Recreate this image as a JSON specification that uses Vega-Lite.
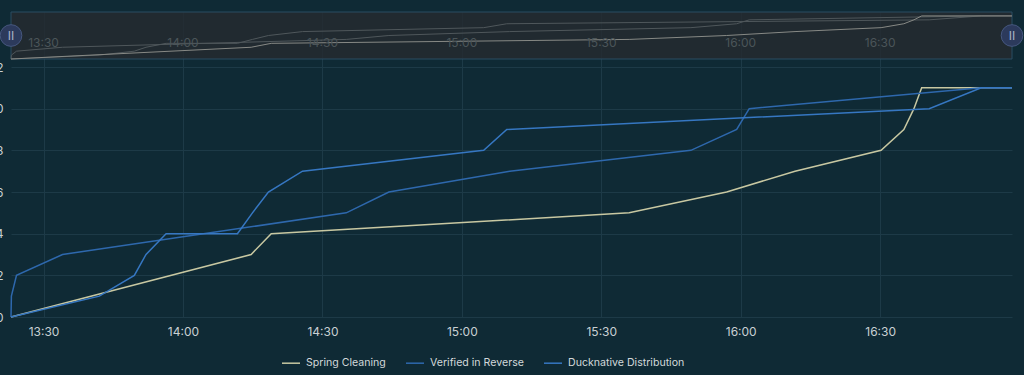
{
  "$schema": "https://vega.github.io/schema/vega-lite/v6.json",
  "width": 1001,
  "height": 305,
  "autosize": {"type": "none"},
  "padding": {"left": 11, "top": 12, "right": 12, "bottom": 58},
  "background": "#0f2a35",
  "config": {
    "view": {"stroke": null},
    "font": "Inter",
    "axisX": {"grid": true, "gridColor": "#1d3a47", "domain": false, "ticks": false, "labelPadding": 9, "labelColor": "#c9d0d3", "labelFontSize": 12, "labelFont": "Inter", "labelFlush": false},
    "axisY": {"grid": true, "gridColor": "#1d3a47", "domain": false, "ticks": false, "labelPadding": 8, "labelColor": "#c9d0d3", "labelFontSize": 12, "labelFont": "Inter"}
  },
  "datasets": {
    "lines": [
      {"series": "Spring Cleaning", "t": "2024-01-01T13:23:00", "v": 0},
      {"series": "Spring Cleaning", "t": "2024-01-01T14:14:40", "v": 3},
      {"series": "Spring Cleaning", "t": "2024-01-01T14:18:59", "v": 4},
      {"series": "Spring Cleaning", "t": "2024-01-01T15:36:00", "v": 5},
      {"series": "Spring Cleaning", "t": "2024-01-01T15:56:58", "v": 6},
      {"series": "Spring Cleaning", "t": "2024-01-01T16:11:41", "v": 7},
      {"series": "Spring Cleaning", "t": "2024-01-01T16:30:12", "v": 8},
      {"series": "Spring Cleaning", "t": "2024-01-01T16:35:06", "v": 9},
      {"series": "Spring Cleaning", "t": "2024-01-01T16:37:16", "v": 10},
      {"series": "Spring Cleaning", "t": "2024-01-01T16:38:56", "v": 11},
      {"series": "Spring Cleaning", "t": "2024-01-01T16:58:22", "v": 11},
      {"series": "Verified in Reverse", "t": "2024-01-01T13:23:00", "v": 0},
      {"series": "Verified in Reverse", "t": "2024-01-01T13:23:05", "v": 1},
      {"series": "Verified in Reverse", "t": "2024-01-01T13:24:11", "v": 2},
      {"series": "Verified in Reverse", "t": "2024-01-01T13:34:05", "v": 3},
      {"series": "Verified in Reverse", "t": "2024-01-01T14:35:08", "v": 5},
      {"series": "Verified in Reverse", "t": "2024-01-01T14:44:18", "v": 6},
      {"series": "Verified in Reverse", "t": "2024-01-01T15:10:18", "v": 7},
      {"series": "Verified in Reverse", "t": "2024-01-01T15:49:17", "v": 8},
      {"series": "Verified in Reverse", "t": "2024-01-01T15:59:08", "v": 9},
      {"series": "Verified in Reverse", "t": "2024-01-01T16:01:50", "v": 10},
      {"series": "Verified in Reverse", "t": "2024-01-01T16:51:45", "v": 11},
      {"series": "Verified in Reverse", "t": "2024-01-01T16:58:22", "v": 11},
      {"series": "Ducknative Distribution", "t": "2024-01-01T13:23:00", "v": 0},
      {"series": "Ducknative Distribution", "t": "2024-01-01T13:42:00", "v": 1},
      {"series": "Ducknative Distribution", "t": "2024-01-01T13:49:32", "v": 2},
      {"series": "Ducknative Distribution", "t": "2024-01-01T13:52:03", "v": 3},
      {"series": "Ducknative Distribution", "t": "2024-01-01T13:56:22", "v": 4},
      {"series": "Ducknative Distribution", "t": "2024-01-01T14:11:43", "v": 4},
      {"series": "Ducknative Distribution", "t": "2024-01-01T14:14:57", "v": 5},
      {"series": "Ducknative Distribution", "t": "2024-01-01T14:18:23", "v": 6},
      {"series": "Ducknative Distribution", "t": "2024-01-01T14:25:43", "v": 7},
      {"series": "Ducknative Distribution", "t": "2024-01-01T15:04:42", "v": 8},
      {"series": "Ducknative Distribution", "t": "2024-01-01T15:09:40", "v": 9},
      {"series": "Ducknative Distribution", "t": "2024-01-01T16:40:33", "v": 10},
      {"series": "Ducknative Distribution", "t": "2024-01-01T16:51:45", "v": 11},
      {"series": "Ducknative Distribution", "t": "2024-01-01T16:58:22", "v": 11}
    ],
    "nav": [
      {"t0": "2024-01-01T13:23:00", "t1": "2024-01-01T16:58:22", "v0": 0, "v1": 12}
    ],
    "navTicks": [
      {"t": "2024-01-01T13:30:00", "v": 4, "label": "13:30"},
      {"t": "2024-01-01T14:00:00", "v": 4, "label": "14:00"},
      {"t": "2024-01-01T14:30:00", "v": 4, "label": "14:30"},
      {"t": "2024-01-01T15:00:00", "v": 4, "label": "15:00"},
      {"t": "2024-01-01T15:30:00", "v": 4, "label": "15:30"},
      {"t": "2024-01-01T16:00:00", "v": 4, "label": "16:00"},
      {"t": "2024-01-01T16:30:00", "v": 4, "label": "16:30"}
    ],
    "handles": [
      {"t": "2024-01-01T13:23:00", "v": 6, "label": "II"},
      {"t": "2024-01-01T16:58:22", "v": 6, "label": "II"}
    ]
  },
  "resolve": {"scale": {"y": "independent"}},
  "layer": [
    {
      "layer": [
        {
          "data": {"name": "nav"},
          "mark": {"type": "rect", "fill": "#262b2f", "fillOpacity": 0.8, "stroke": "#2a4c63", "strokeWidth": 1},
          "encoding": {
            "x": {"field": "t0", "type": "temporal", "title": null},
            "x2": {"field": "t1"},
            "y": {"field": "v0", "type": "quantitative", "axis": null, "scale": {"domain": [-65.87, 12], "nice": false, "zero": false}},
            "y2": {"field": "v1"}
          }
        },
        {
          "data": {"name": "lines"},
          "transform": [{"filter": "datum.series !== 'Spring Cleaning'"}],
          "mark": {"type": "line", "stroke": "#4f575b", "strokeWidth": 1},
          "encoding": {
            "x": {"field": "t", "type": "temporal", "title": null},
            "y": {"field": "v", "type": "quantitative", "axis": null, "scale": {"domain": [-65.87, 12], "nice": false, "zero": false}},
            "detail": {"field": "series"}
          }
        },
        {
          "data": {"name": "lines"},
          "transform": [{"filter": "datum.series === 'Spring Cleaning'"}],
          "mark": {"type": "line", "stroke": "#878985", "strokeWidth": 1},
          "encoding": {
            "x": {"field": "t", "type": "temporal", "title": null},
            "y": {"field": "v", "type": "quantitative", "axis": null, "scale": {"domain": [-65.87, 12], "nice": false, "zero": false}}
          }
        },
        {
          "data": {"name": "navTicks"},
          "mark": {"type": "text", "color": "#4b5559", "fontSize": 12, "font": "Inter", "align": "center", "baseline": "middle"},
          "encoding": {
            "x": {"field": "t", "type": "temporal", "title": null},
            "y": {"field": "v", "type": "quantitative", "axis": null, "scale": {"domain": [-65.87, 12], "nice": false, "zero": false}},
            "text": {"field": "label"}
          }
        },
        {
          "data": {"name": "handles"},
          "mark": {"type": "point", "shape": "circle", "filled": true, "size": 470, "fill": "#2c3a5c", "stroke": "#46577e", "strokeWidth": 1, "opacity": 1},
          "encoding": {
            "x": {"field": "t", "type": "temporal", "title": null},
            "y": {"field": "v", "type": "quantitative", "axis": null, "scale": {"domain": [-65.87, 12], "nice": false, "zero": false}}
          }
        },
        {
          "data": {"name": "handles"},
          "mark": {"type": "text", "color": "#a9b2c8", "fontSize": 12, "font": "Inter", "align": "center", "baseline": "middle"},
          "encoding": {
            "x": {"field": "t", "type": "temporal", "title": null},
            "y": {"field": "v", "type": "quantitative", "axis": null, "scale": {"domain": [-65.87, 12], "nice": false, "zero": false}},
            "text": {"field": "label"}
          }
        }
      ]
    },
    {
      "data": {"name": "lines"},
      "mark": {"type": "line", "strokeWidth": 1.5},
      "encoding": {
        "x": {
          "field": "t", "type": "temporal", "title": null,
          "scale": {"domain": ["2024-01-01T13:23:00", "2024-01-01T16:58:22"], "nice": false},
          "axis": {"format": "%H:%M", "values": ["2024-01-01T13:30:00", "2024-01-01T14:00:00", "2024-01-01T14:30:00", "2024-01-01T15:00:00", "2024-01-01T15:30:00", "2024-01-01T16:00:00", "2024-01-01T16:30:00"]}
        },
        "y": {
          "field": "v", "type": "quantitative", "title": null,
          "scale": {"domain": [0, 14.64], "nice": false, "zero": false},
          "axis": {"orient": "left", "grid": true, "gridColor": "#1d3a47", "values": [0, 2, 4, 6, 8, 10, 12]}
        },
        "color": {
          "field": "series", "type": "nominal",
          "scale": {"domain": ["Spring Cleaning", "Verified in Reverse", "Ducknative Distribution"], "range": ["#c8c8a2", "#2e68ad", "#3677c2"]},
          "legend": {"orient": "none", "legendX": 270, "legendY": 341, "direction": "horizontal", "title": null, "symbolType": "stroke", "symbolSize": 324, "symbolStrokeWidth": 1.5, "labelColor": "#d2d8da", "labelFont": "Inter", "labelFontSize": 10.6, "labelOffset": 5, "columnPadding": 17}
        }
      }
    }
  ]
}
